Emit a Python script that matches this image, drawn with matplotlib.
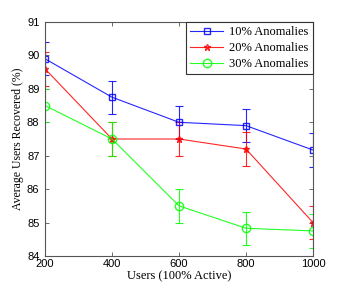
import matplotlib
matplotlib.use("Agg")
import matplotlib.pyplot as plt
from matplotlib.lines import Line2D

users = [200, 400, 600, 800, 1000]
a10 = [89.9, 88.75, 88.0, 87.9, 87.17]
a20 = [89.6, 87.5, 87.5, 87.2, 85.0]
a30 = [88.5, 87.5, 85.5, 84.83, 84.75]
err10 = [0.5, 0.5, 0.5, 0.5, 0.5]
err20 = [0.5, 0.5, 0.5, 0.5, 0.5]
err30 = [0.5, 0.5, 0.5, 0.5, 0.5]
labels = ["10% Anomalies", "20% Anomalies", "30% Anomalies"]

fig = plt.figure(figsize=(3.46, 2.89), dpi=100)
ax = fig.add_axes([45/346, 1-256/289, (313-45)/346, (256-22)/289])

serif = "Liberation Serif"
sans = "Liberation Sans"

series = [(a10, err10, "#0000ff", "s", 5, labels[0]),
          (a20, err20, "#ff0000", "*", 5, labels[1]),
          (a30, err30, "#00ff00", "o", 6, labels[2])]
handles = []
for y, e, c, m, ms, lab in series:
    ax.errorbar(users, y, yerr=e, color=c, marker=m, markerfacecolor="none",
                markeredgecolor=c, markersize=ms, linewidth=0.8,
                elinewidth=0.8, capsize=3, capthick=0.8, alpha=0.85)
    handles.append(Line2D([], [], color=c, marker=m, markerfacecolor="none",
                          markeredgecolor=c, markersize=ms, linewidth=0.8,
                          alpha=0.85, label=lab))

ax.set_xlim(200, 1000)
ax.set_ylim(84, 91)
ax.set_xticks(users)
ax.set_yticks(range(84, 92))
ax.tick_params(direction="in", top=True, right=True, length=3, width=0.6,
               labelsize=8, color="#555555", pad=2)
ax.tick_params(axis="y", pad=4)
for t in ax.get_xticklabels() + ax.get_yticklabels():
    t.set_fontfamily(sans)
for s in ax.spines.values():
    s.set_color("#555555")
    s.set_linewidth(0.8)

ax.set_xlabel("Users (100% Active)", fontfamily=serif, fontsize=9, labelpad=1)
ax.set_ylabel("Average Users Recovered (%)", fontfamily=serif, fontsize=8.5, labelpad=2)

leg = ax.legend(handles=handles, loc="upper right", prop={"family": serif, "size": 9},
                fancybox=False, edgecolor="#333333", framealpha=1,
                borderaxespad=0, handlelength=2.6, borderpad=0.35, labelspacing=0.3,
                handletextpad=0.5)
leg.get_frame().set_linewidth(0.8)

fig.savefig("out.png", dpi=100)
